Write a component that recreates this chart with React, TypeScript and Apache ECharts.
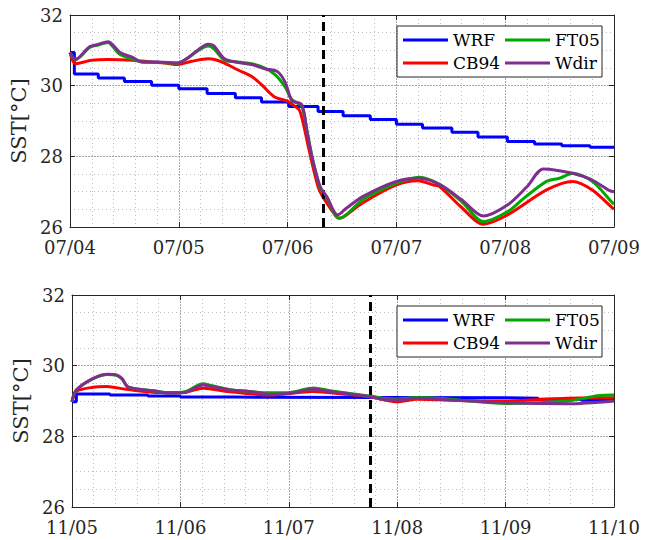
import React, { useEffect, useRef } from "react";
import * as echarts from "echarts";

const seriesNames = ["WRF", "CB94", "FT05", "Wdir"];
const seriesColors = ["#0000ff", "#ff0000", "#00a800", "#7e2f8e"];

const topTickLabels = ["07/04", "07/05", "07/06", "07/07", "07/08", "07/09"];
const bottomTickLabels = ["11/05", "11/06", "11/07", "11/08", "11/09", "11/10"];
const yTicks = [26, 28, 30, 32];

// x in days since first tick
const topWRF = [
  [0, 30.94], [0.04, 30.33], [0.26, 30.22], [0.5, 30.12], [0.75, 30.01], [1.0, 29.91],
  [1.26, 29.78], [1.52, 29.66], [1.76, 29.54], [2.01, 29.41], [2.28, 29.27], [2.51, 29.15],
  [2.76, 29.04], [3.0, 28.91], [3.24, 28.8], [3.51, 28.68], [3.75, 28.55], [4.02, 28.42],
  [4.27, 28.35], [4.52, 28.3], [4.78, 28.26], [5.0, 28.26],
];
const topCB94 = [
  [0, 30.94], [0.05, 30.62], [0.2, 30.72], [0.35, 30.74], [0.57, 30.72], [0.75, 30.67],
  [0.87, 30.64], [0.99, 30.6], [1.12, 30.69], [1.27, 30.76], [1.33, 30.74], [1.42, 30.64],
  [1.54, 30.45], [1.67, 30.26], [1.76, 30.03], [1.88, 29.68], [2.0, 29.56], [2.07, 29.41],
  [2.11, 29.3], [2.15, 28.85], [2.19, 28.28], [2.28, 27.14], [2.34, 26.77], [2.45, 26.29],
  [2.48, 26.25], [2.52, 26.3], [2.69, 26.68], [3.0, 27.19], [3.2, 27.31], [3.34, 27.19],
  [3.4, 27.14], [3.59, 26.58], [3.8, 26.08], [4.02, 26.34], [4.38, 27.05], [4.62, 27.29],
  [4.8, 27.05], [4.99, 26.53], [5.0, 26.52],
];
const topFT05 = [
  [0, 30.93], [0.05, 30.74], [0.18, 31.08], [0.26, 31.15], [0.35, 31.22], [0.4, 31.08],
  [0.46, 30.88], [0.57, 30.76], [0.66, 30.67], [0.81, 30.66], [0.99, 30.64], [1.09, 30.8],
  [1.18, 31.0], [1.27, 31.12], [1.32, 31.05], [1.42, 30.72], [1.52, 30.68], [1.67, 30.62],
  [1.79, 30.5], [1.89, 30.3], [1.98, 29.95], [2.04, 29.6], [2.13, 29.42], [2.18, 28.7],
  [2.23, 27.92], [2.3, 27.1], [2.36, 26.82], [2.47, 26.25], [2.54, 26.35], [2.69, 26.77],
  [3.0, 27.24], [3.21, 27.41], [3.4, 27.2], [3.6, 26.72], [3.8, 26.15], [4.02, 26.43],
  [4.17, 26.81], [4.38, 27.29], [4.5, 27.38], [4.62, 27.52], [4.8, 27.29], [4.99, 26.67],
  [5.0, 26.65],
];
const topWdir = [
  [0, 30.93], [0.05, 30.74], [0.18, 31.1], [0.26, 31.17], [0.35, 31.24], [0.4, 31.13],
  [0.46, 30.94], [0.57, 30.81], [0.66, 30.67], [0.81, 30.67], [0.99, 30.64], [1.09, 30.8],
  [1.18, 31.02], [1.27, 31.17], [1.32, 31.13], [1.42, 30.76], [1.52, 30.67], [1.67, 30.6],
  [1.79, 30.48], [1.91, 30.39], [1.98, 30.08], [2.04, 29.58], [2.13, 29.46], [2.18, 28.66],
  [2.23, 27.9], [2.3, 27.14], [2.36, 26.86], [2.46, 26.34], [2.54, 26.53], [2.69, 26.86],
  [3.0, 27.29], [3.21, 27.38], [3.4, 27.2], [3.6, 26.77], [3.8, 26.31], [4.02, 26.62],
  [4.2, 27.14], [4.35, 27.64], [4.48, 27.6], [4.62, 27.52], [4.8, 27.33], [4.96, 27.03],
  [5.0, 27.0],
];

const bottomWRF = [
  [0, 28.98], [0.04, 29.2], [0.35, 29.17], [0.7, 29.14], [1.0, 29.11], [1.5, 29.09],
  [4.0, 29.08], [4.3, 29.05], [4.7, 29.02], [5.0, 29.0],
];
const bottomCB94 = [
  [0, 28.98], [0.04, 29.27], [0.195, 29.39], [0.32, 29.41], [0.5, 29.33], [0.81, 29.24],
  [1.02, 29.24], [1.21, 29.36], [1.43, 29.27], [1.83, 29.17], [2.22, 29.27], [2.5, 29.2],
  [2.75, 29.12], [3.0, 28.98], [3.18, 29.05], [3.64, 29.01], [4.0, 29.0], [4.57, 29.08],
  [5.0, 29.09],
];
const bottomFT05 = [
  [0, 28.98], [0.04, 29.31], [0.195, 29.63], [0.33, 29.75], [0.41, 29.73], [0.46, 29.63],
  [0.52, 29.39], [0.75, 29.29], [0.9, 29.23], [1.04, 29.26], [1.21, 29.49], [1.27, 29.45],
  [1.46, 29.32], [1.64, 29.27], [1.83, 29.23], [2.01, 29.24], [2.23, 29.37], [2.38, 29.29],
  [2.75, 29.14], [2.87, 29.08], [3.0, 29.06], [3.18, 29.1], [3.49, 29.05], [4.0, 28.93],
  [4.57, 29.0], [4.85, 29.15], [5.0, 29.17],
];
const bottomWdir = [
  [0, 28.98], [0.04, 29.31], [0.195, 29.64], [0.33, 29.76], [0.41, 29.74], [0.46, 29.64],
  [0.52, 29.39], [0.75, 29.29], [0.9, 29.22], [1.04, 29.24], [1.21, 29.45], [1.27, 29.42],
  [1.46, 29.31], [1.64, 29.27], [1.83, 29.19], [2.01, 29.22], [2.23, 29.33], [2.38, 29.27],
  [2.75, 29.12], [2.87, 29.05], [3.0, 29.03], [3.18, 29.08], [3.49, 29.03], [4.0, 28.95],
  [4.57, 28.92], [5.0, 29.0],
];

const topDashedDay = 2.33;
const bottomDashedDay = 2.75;

const FONT = "DejaVu Serif";
const AXIS_COLOR = "#262626";

export default function App() {
  const ref = useRef<HTMLDivElement>(null);

  useEffect(() => {
    if (!ref.current) return;
    const chart = echarts.init(ref.current, undefined, { renderer: "svg" });

    const grids = [
      { left: 70, top: 15, width: 544, height: 212, outerBoundsMode: "none" },
      { left: 72, top: 295, width: 542, height: 212, outerBoundsMode: "none" },
    ];
    const tickSets = [topTickLabels, bottomTickLabels];
    const dataSets = [
      [topWRF, topCB94, topFT05, topWdir],
      [bottomWRF, bottomCB94, bottomFT05, bottomWdir],
    ];
    const dashed = [topDashedDay, bottomDashedDay];

    const xAxes: any[] = [];
    const yAxes: any[] = [];
    const series: any[] = [];
    const legends: any[] = [];
    const graphics: any[] = [];

    grids.forEach((g, gi) => {
      const labels = tickSets[gi];
      xAxes.push({
        type: "value",
        gridIndex: gi,
        min: 0,
        max: 5,
        interval: 1,
        position: "bottom",
        axisLine: { show: true, onZero: false, lineStyle: { color: AXIS_COLOR, width: 1 } },
        axisTick: { show: true, inside: true, length: 5, lineStyle: { color: AXIS_COLOR } },
        axisLabel: {
          show: true,
          margin: 11,
          fontFamily: FONT,
          fontSize: 18,
          color: AXIS_COLOR,
          formatter: (v: number) => labels[Math.round(v)] ?? "",
        },
        splitLine: { show: true, lineStyle: { color: "#a8a8a8", type: [2, 1], width: 1 } },
        minorTick: { show: false, splitNumber: 5 },
        minorSplitLine: { show: true, lineStyle: { color: "#bdbdbd", type: [1, 3], width: 1 } },
      });
      xAxes.push({
        type: "value",
        gridIndex: gi,
        min: 0,
        max: 5,
        interval: 1,
        position: "top",
        axisLine: { show: true, onZero: false, lineStyle: { color: AXIS_COLOR, width: 1 } },
        axisTick: { show: true, inside: true, length: 5, lineStyle: { color: AXIS_COLOR } },
        axisLabel: { show: false },
        splitLine: { show: false },
      });
      yAxes.push({
        type: "value",
        gridIndex: gi,
        min: yTicks[0],
        max: yTicks[yTicks.length - 1],
        interval: 2,
        position: "left",
        name: "SST[°C]",
        nameLocation: "middle",
        nameGap: 31,
        nameTextStyle: { fontFamily: FONT, fontSize: 21, color: AXIS_COLOR },
        axisLine: { show: true, onZero: false, lineStyle: { color: AXIS_COLOR, width: 1 } },
        axisTick: { show: true, inside: true, length: 5, lineStyle: { color: AXIS_COLOR } },
        axisLabel: { show: true, margin: 7, fontFamily: FONT, fontSize: 18, color: AXIS_COLOR },
        splitLine: { show: true, lineStyle: { color: "#a8a8a8", type: [2, 1], width: 1 } },
        minorTick: { show: false, splitNumber: 4 },
        minorSplitLine: { show: true, lineStyle: { color: "#bdbdbd", type: [1, 3], width: 1 } },
      });
      yAxes.push({
        type: "value",
        gridIndex: gi,
        min: yTicks[0],
        max: yTicks[yTicks.length - 1],
        interval: 2,
        position: "right",
        axisLine: { show: true, onZero: false, lineStyle: { color: AXIS_COLOR, width: 1 } },
        axisTick: { show: true, inside: true, length: 5, lineStyle: { color: AXIS_COLOR } },
        axisLabel: { show: false },
        splitLine: { show: false },
      });

      seriesNames.forEach((name, si) => {
        const s: any = {
          type: "line",
          name,
          xAxisIndex: gi * 2,
          yAxisIndex: gi * 2,
          data: dataSets[gi][si],
          showSymbol: false,
          symbol: "none",
          smooth: si === 0 ? false : 0.3,
          step: si === 0 ? "end" : false,
          lineStyle: { color: seriesColors[si], width: 3 },
          itemStyle: { color: seriesColors[si] },
          z: 2 + si,
        };
        if (si === 3) {
          s.markLine = {
            silent: true,
            symbol: ["none", "none"],
            label: { show: false },
            lineStyle: { color: "#000", type: [9, 5], width: 3 },
            data: [{ xAxis: dashed[gi] }],
          };
        }
        series.push(s);
      });

      const baseY = g.top;
      graphics.push({
        type: "rect",
        z: 10,
        shape: { x: 397, y: baseY + 11, width: 205, height: 51 },
        style: { fill: "#ffffff", stroke: AXIS_COLOR, lineWidth: 1 },
      });
      const legendCommon = {
        orient: "vertical",
        selectedMode: false,
        icon: "rect",
        itemWidth: 45,
        itemHeight: 3,
        itemGap: 4,
        padding: 0,
        z: 20,
        textStyle: { fontFamily: FONT, fontSize: 17, color: "#000", lineHeight: 19 },
      };
      legends.push({ ...legendCommon, left: 403, top: baseY + 15.5, data: ["WRF", "CB94"] });
      legends.push({ ...legendCommon, left: 505, top: baseY + 15.5, data: ["FT05", "Wdir"] });
    });

    chart.setOption({
      animation: false,
      backgroundColor: "#ffffff",
      grid: grids,
      xAxis: xAxes,
      yAxis: yAxes,
      series,
      legend: legends,
      graphic: graphics,
    });

    return () => chart.dispose();
  }, []);

  return (
    <div
      ref={ref}
      style={{ position: "fixed", left: 0, top: 0, width: 655, height: 540 }}
    />
  );
}
